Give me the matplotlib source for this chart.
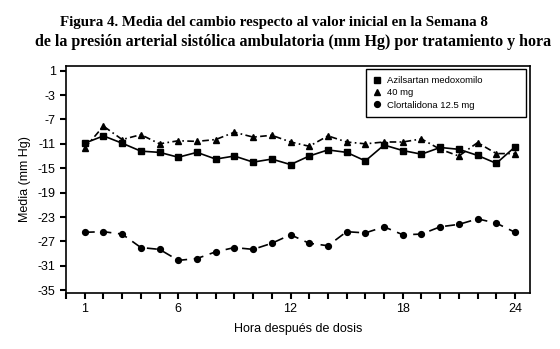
import matplotlib.pyplot as plt
from matplotlib.patches import Rectangle

plt.rcParams['font.family'] = ['Liberation Sans', 'DejaVu Sans']
plt.rcParams['axes.unicode_minus'] = False

hours = list(range(1, 25))
azil = [-10.9, -9.7, -10.9, -12.2, -12.4, -13.2, -12.4, -13.5, -13.0, -14.0, -13.5, -14.4,
        -13.0, -12.0, -12.4, -13.8, -11.2, -12.1, -12.7, -11.6, -11.9, -12.9, -14.2, -11.5]
mg40 = [-11.7, -8.1, -10.3, -9.5, -11.0, -10.5, -10.6, -10.3, -9.1, -9.9, -9.6, -10.7,
        -11.4, -9.7, -10.7, -11.0, -10.7, -10.7, -10.2, -11.9, -13.0, -10.8, -12.6, -12.6]
clort = [-25.5, -25.4, -25.8, -28.0, -28.3, -30.1, -29.8, -28.7, -28.0, -28.3, -27.3, -25.9,
         -27.3, -27.7, -25.4, -25.6, -24.6, -25.9, -25.8, -24.6, -24.2, -23.3, -24.0, -25.5]
labels = ['Azilsartan medoxomilo', '40 mg', 'Clortalidona 12.5 mg']
yticks = [1, -3, -7, -11, -15, -19, -23, -27, -31, -35]
xlabeled = [1, 6, 12, 18, 24]

fig = plt.figure(figsize=(5.6, 3.49), dpi=100)
ax = fig.add_axes([0.1179, 0.1613, 0.8285, 0.6504])

ax.plot(hours, azil, color='black', lw=1.2, marker='s', ms=4.2)
ax.plot(hours, mg40, color='black', lw=1.2, marker='^', ms=4.5, ls=(0, (4, 2, 1, 2)))
ax.plot(hours, clort, color='black', lw=1.2, marker='o', ms=4.2, ls=(0, (6, 4)))

ax.set_xlim(0, 24.8)
ax.set_ylim(-35.4, 1.8)
ax.set_yticks(yticks)
ax.set_xticks(range(0, 25))
ax.set_xticklabels([str(h) if h in xlabeled else '' for h in range(0, 25)])
ax.tick_params(direction='out', length=4, width=1.5, labelsize=9, colors='black')
for s in ax.spines.values():
    s.set_linewidth(1.2)

# legend: markers only, box wider than the text like the original
handles = [plt.Line2D([], [], color='black', marker=m, ls='none', ms=4.2) for m in ['s', '^', 'o']]
leg = ax.legend(handles, labels, loc='upper left', bbox_to_anchor=(0.66, 0.955),
                fontsize=6.8, frameon=False, borderpad=0, handlelength=1.0,
                handletextpad=0.6, labelspacing=0.35, borderaxespad=0)
ax.add_patch(Rectangle((0.6466, 0.774), 0.3444, 0.211, transform=ax.transAxes,
                       fill=False, edgecolor='black', lw=1.0, zorder=5))

ax.set_xlabel('Hora después de dosis', fontsize=9, labelpad=6)
ax.set_ylabel('Media (mm Hg)', fontsize=9, labelpad=5)

fig.text(0.49, 0.935, 'Figura 4. Media del cambio respecto al valor inicial en la Semana 8',
         ha='center', va='center', family='Liberation Serif', weight='bold', fontsize=10.8)
fig.text(0.523, 0.879, 'de la presión arterial sistólica ambulatoria (mm Hg) por tratamiento y hora',
         ha='center', va='center', family='Liberation Serif', weight='bold', fontsize=11.5)

fig.savefig('out.png', dpi=100)
